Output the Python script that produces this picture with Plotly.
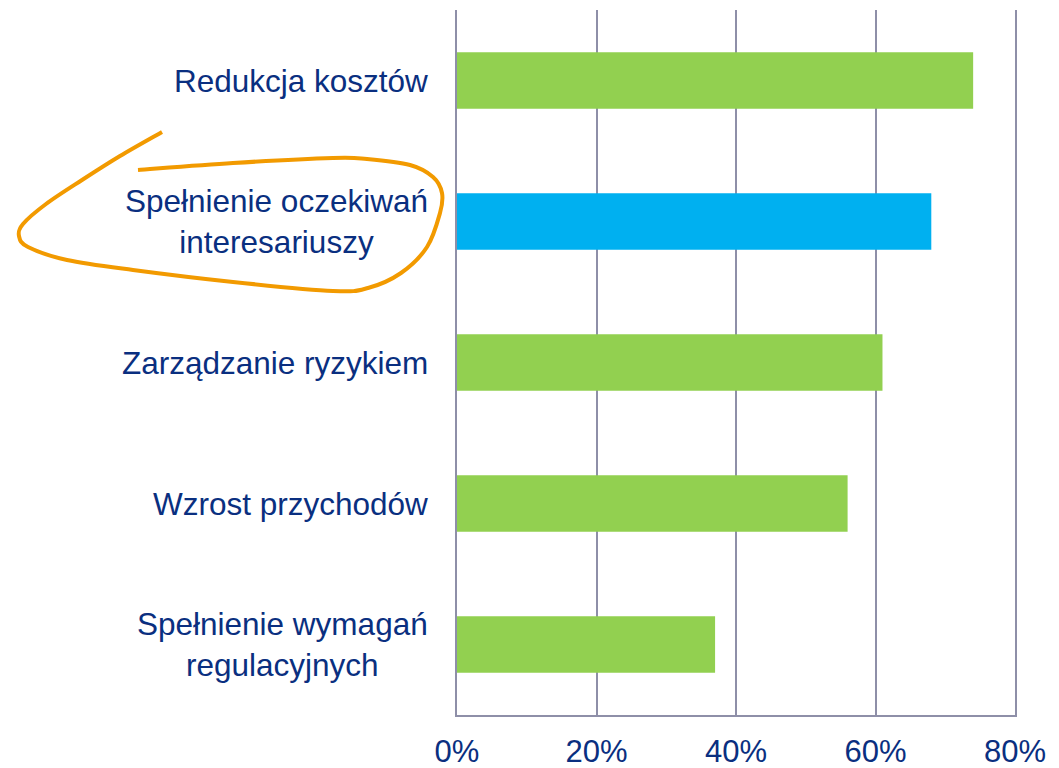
import plotly.graph_objects as go

categories = [
    "Redukcja kosztów",
    "Spełnienie oczekiwań<br>interesariuszy",
    "Zarządzanie ryzykiem",
    "Wzrost przychodów",
    "Spełnienie wymagań<br>regulacyjnych",
]
values = [0.74, 0.68, 0.61, 0.56, 0.37]
bar_colors = ["#92D050", "#00B0F0", "#92D050", "#92D050", "#92D050"]
tick_vals = [0, 0.2, 0.4, 0.6, 0.8]
tick_text = ["0%", "20%", "40%", "60%", "80%"]

# page body has an 8px margin, so the figure is shrunk/offset to compensate
OFF = 8
W, H = 1059 - OFF, 768 - OFF
ML, MR, MT, MB = 457 - OFF, 44, 10 - OFF, 53
PW, PH = W - ML - MR, H - MT - MB
NAVY = "#0A2F80"
GRID = "#8E8FA8"
FONT = "Liberation Sans, Arial, sans-serif"

fig = go.Figure()
fig.add_trace(go.Bar(
    y=categories, x=values, orientation="h",
    marker=dict(color=bar_colors, line=dict(width=0)),
    width=0.4, hoverinfo="skip",
))

# category labels as centered multi-line annotations
for c in categories:
    fig.add_annotation(
        x=0, y=c, xref="x", yref="y", text=c, showarrow=False,
        xanchor="right", yanchor="middle", align="center", xshift=-27,
        font=dict(family=FONT, size=31.5, color=NAVY),
    )

# hand-drawn orange loop (decoration, screen pixel coords -> paper coords)
loop_px = [(162, 132), (120, 156), (82, 180), (46, 204), (23, 224), (19, 236),
           (28, 247), (67, 260), (133, 270), (233, 282), (333, 291), (368, 288),
           (401, 273), (427, 247), (440, 213), (442, 193), (433, 177), (410, 165),
           (367, 159), (333, 158), (233, 163), (138, 170)]


def to_paper(p):
    return ((p[0] - 457) / PW, (715 - p[1]) / PH)


pts = [to_paper(p) for p in loop_px]
d = "M {:.5f},{:.5f}".format(*pts[0])
for i in range(len(pts) - 1):
    p0 = pts[i - 1] if i > 0 else pts[i]
    p1 = pts[i]
    p2 = pts[i + 1]
    p3 = pts[i + 2] if i + 2 < len(pts) else pts[i + 1]
    c1 = (p1[0] + (p2[0] - p0[0]) / 6, p1[1] + (p2[1] - p0[1]) / 6)
    c2 = (p2[0] - (p3[0] - p1[0]) / 6, p2[1] - (p3[1] - p1[1]) / 6)
    d += " C {:.5f},{:.5f} {:.5f},{:.5f} {:.5f},{:.5f}".format(*c1, *c2, *p2)
fig.add_shape(type="path", path=d, xref="paper", yref="paper",
              line=dict(color="#F29A00", width=4))

fig.update_layout(
    width=W, height=H,
    margin=dict(l=ML, r=MR, t=MT, b=MB, pad=0, autoexpand=False),
    paper_bgcolor="white", plot_bgcolor="white",
    showlegend=False,
    bargap=0.6,
    xaxis=dict(
        range=[0, 0.8], tickvals=tick_vals, ticktext=tick_text,
        showgrid=True, gridcolor=GRID, gridwidth=2,
        showline=True, linecolor=GRID, linewidth=2,
        zeroline=False, ticks="", ticklabelstandoff=8,
        tickfont=dict(family=FONT, size=31, color=NAVY),
        automargin=False, fixedrange=True,
    ),
    yaxis=dict(
        categoryorder="array", categoryarray=categories,
        autorange="reversed",
        showticklabels=False, showgrid=False,
        showline=True, linecolor=GRID, linewidth=2, mirror=True,
        ticks="", zeroline=False, automargin=False, fixedrange=True,
    ),
)

fig.write_html("out.html")
